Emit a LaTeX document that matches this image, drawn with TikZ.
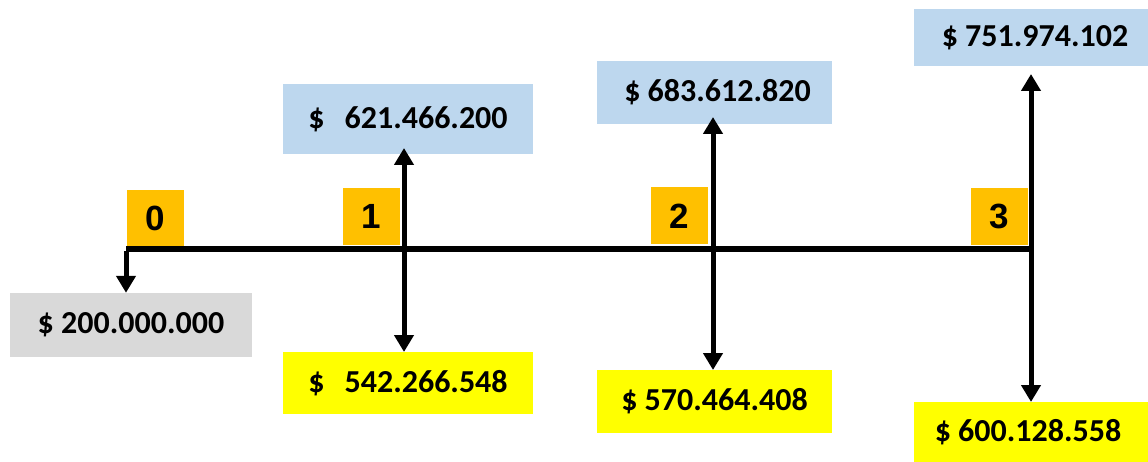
\documentclass[tikz,border=0pt]{standalone}
\usepackage{fontspec}
\setmainfont{Carlito}
\newfontfamily\digitfont{Liberation Sans}
\usetikzlibrary{arrows.meta}
\definecolor{inflow}{HTML}{BDD7EE}
\definecolor{outflow}{HTML}{FFFF00}
\definecolor{invest}{HTML}{D9D9D9}
\definecolor{period}{HTML}{FFC000}
\tikzset{
  amount/.style={rectangle, inner sep=0pt, font=\fontsize{32}{32}\selectfont\bfseries},
  periodbox/.style={rectangle, fill=period, inner sep=0pt, minimum width=57pt, minimum height=57pt,
    font=\digitfont\fontsize{35}{35}\selectfont\bfseries},
  axis/.style={line width=5.5pt},
  flow/.style={line width=5pt, {Triangle[width=19pt,length=17pt]}-{Triangle[width=19pt,length=17pt]}},
  outflowarrow/.style={line width=5pt, -{Triangle[width=19pt,length=17pt]}}
}
\begin{document}
\begin{tikzpicture}[x=1pt, y=-1pt]
  \useasboundingbox (0,0) rectangle (1148,462);

  % period markers
  \node[periodbox] (p0) at (155.5,218.5) {\raisebox{-4pt}{0}};
  \node[periodbox] (p1) at (371.5,216.5) {\raisebox{-4pt}{1}};
  \node[periodbox] (p2) at (679.5,216) {\raisebox{-4pt}{2}};
  \node[periodbox] (p3) at (999,216.5) {\raisebox{-4pt}{3}};

  % amounts
  \node[amount, fill=invest, minimum width=242pt, minimum height=64pt] (g0) at (131,325) {\raisebox{3pt}{\$ 200.000.000}};
  \node[amount, fill=inflow, minimum width=250pt, minimum height=70pt] (b1) at (408,119) {\raisebox{3pt}{\$\hspace{20pt}621.466.200}};
  \node[amount, fill=outflow, minimum width=250pt, minimum height=62pt] (y1) at (408,383) {\raisebox{1pt}{\$\hspace{20pt}542.266.548}};
  \node[amount, fill=inflow, minimum width=235pt, minimum height=63pt] (b2) at (714.5,92.5) {\hspace{6pt}\raisebox{2pt}{\$ 683.612.820}};
  \node[amount, fill=outflow, minimum width=235pt, minimum height=63pt] (y2) at (714.5,401.5) {\$ 570.464.408};
  \node[amount, fill=inflow, minimum width=234pt, minimum height=57pt] (b3) at (1031,37.5) {\hspace{8pt}\raisebox{2pt}{\$ 751.974.102}};
  \node[amount, fill=outflow, minimum width=234pt, minimum height=60pt] (y3) at (1031,432) {\hspace{-6pt}\$ 600.128.558};

  % time axis points
  \coordinate (t0) at (126,249);
  \coordinate (t3) at (1031,249);

  % arrow end points
  \coordinate (u1) at (404,148);
  \coordinate (d1) at (404,352);
  \coordinate (u2) at (713,117);
  \coordinate (d2) at (713,370);
  \coordinate (u3) at (1031,74);
  \coordinate (d3) at (1031,402);

  % time line and initial investment
  \draw[axis] (t3) -- (t0);
  \draw[outflowarrow] ([yshift=-2pt]t0) -- (g0.north -| t0);

  % cash flows per period
  \draw[flow] (u1) -- (d1);
  \draw[flow] (u2) -- (d2);
  \draw[flow] (u3) -- (d3);
\end{tikzpicture}
\end{document}
